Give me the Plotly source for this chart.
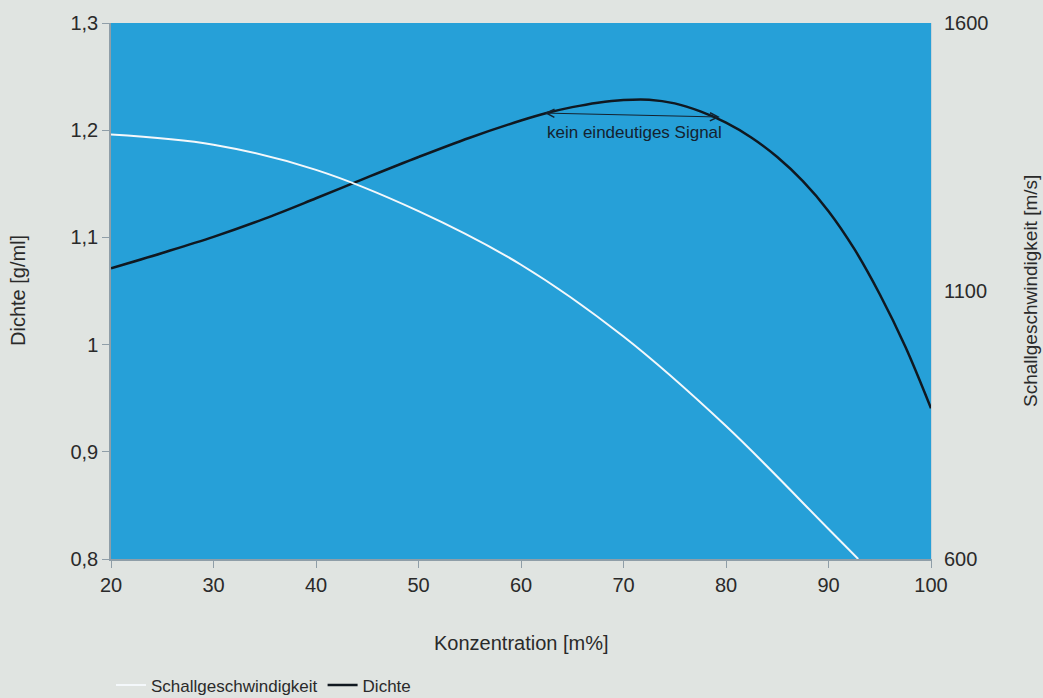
import plotly.graph_objects as go

# Data
conc_speed = [20, 30, 40, 50, 60, 70, 80, 90, 92.9]
speed = [1392, 1373, 1326, 1249, 1149, 1015, 848, 656, 600]

conc_density = [20, 25, 30, 35, 40, 45, 50, 55, 60, 62.5, 65, 67.5, 70, 72.5, 75, 77.5, 80,
                82.5, 85, 87.5, 90, 92.5, 95, 97.5, 100]
density = [1.0712, 1.0855, 1.1005, 1.1175, 1.1365, 1.1560, 1.1750, 1.1930, 1.2090, 1.2160,
           1.2215, 1.2257, 1.2282, 1.2285, 1.2250, 1.2175, 1.2070, 1.1930, 1.1750, 1.1525,
           1.1245, 1.0895, 1.0470, 0.9980, 0.9406]

x_ticks = [20, 30, 40, 50, 60, 70, 80, 90, 100]
left_ticks = [0.8, 0.9, 1.0, 1.1, 1.2, 1.3]
left_tick_labels = ["0,8", "0,9", "1", "1,1", "1,2", "1,3"]
right_ticks = [600, 1100, 1600]
right_tick_labels = ["600", "1100", "1600"]

note_text = "kein eindeutiges Signal"
note_x, note_y = 71.1, 1.1983
arrow_start = (62.15, 1.216)
arrow_end = (79.4, 1.2123)

FONT = "Liberation Sans"
TXT = "#2a2a2a"
AXC = "#8f9ea8"

fig = go.Figure()
fig.add_trace(go.Scatter(x=conc_speed, y=speed, name="Schallgeschwindigkeit", mode="lines",
                         line=dict(color="#f4f8fb", width=2, shape="spline", smoothing=1),
                         yaxis="y2"))
fig.add_trace(go.Scatter(x=conc_density, y=density, name="Dichte", mode="lines",
                         line=dict(color="#101820", width=2.5, shape="spline", smoothing=1),
                         yaxis="y"))

fig.update_layout(
    width=1043, height=698,
    margin=dict(l=111, r=112, t=23, b=139, autoexpand=False),
    paper_bgcolor="#e0e4e1",
    plot_bgcolor="#26a0d8",
    font=dict(family=FONT, size=20, color=TXT),
    showlegend=True,
    legend=dict(orientation="h", x=0.0, xanchor="left", y=-0.236, yanchor="middle",
                font=dict(size=17, color=TXT), bgcolor="rgba(0,0,0,0)", itemwidth=30),
    xaxis=dict(range=[20, 100], tickvals=x_ticks, ticks="outside", ticklen=7, tickcolor=AXC,
               showline=True, linecolor=AXC, linewidth=1.5, showgrid=False, zeroline=False,
               tickfont=dict(size=20, color=TXT)),
    yaxis=dict(range=[0.8, 1.3], tickvals=left_ticks, ticktext=left_tick_labels, ticks="outside",
               ticklen=7, tickcolor=AXC, showline=True, linecolor=AXC, linewidth=1.5,
               showgrid=False, zeroline=False, tickfont=dict(size=20, color=TXT)),
    yaxis2=dict(range=[600, 1600], tickvals=right_ticks, ticktext=right_tick_labels, overlaying="y",
                side="right", ticks="", showline=True, linecolor="#c8d3d8", linewidth=1,
                showgrid=False, zeroline=False, tickfont=dict(size=20, color=TXT), ticklabelstandoff=8),
)

fig.add_annotation(text="Dichte [g/ml]", xref="paper", yref="paper", x=0, y=0.5, xshift=-93,
                   xanchor="center", yanchor="middle",
                   textangle=-90, showarrow=False, font=dict(size=20, color=TXT))
fig.add_annotation(text="Schallgeschwindigkeit [m/s]", xref="paper", yref="paper", x=1, y=0.5,
                   xshift=99, xanchor="center", yanchor="middle",
                   textangle=-90, showarrow=False, font=dict(size=19, color=TXT))
fig.add_annotation(text="Konzentration [m%]", xref="paper", yref="paper", x=0.5, y=0,
                   yshift=-84, xanchor="center", yanchor="middle",
                   showarrow=False, font=dict(size=20, color=TXT))

fig.add_annotation(text=note_text, x=note_x, y=note_y, xref="x", yref="y", showarrow=False,
                   xanchor="center", yanchor="middle", font=dict(size=17, color="#14222f"))
fig.add_annotation(text="", x=arrow_end[0], y=arrow_end[1], ax=arrow_start[0], ay=arrow_start[1],
                   xref="x", yref="y", axref="x", ayref="y", showarrow=True,
                   arrowside="end+start", arrowhead=5, startarrowhead=5, arrowsize=1.6,
                   startarrowsize=1.6, arrowwidth=1, arrowcolor="#14222f")

fig.write_html("out.html", config={"displayModeBar": False},
               post_script="document.body.style.margin='0px';document.body.style.overflow='hidden';")
